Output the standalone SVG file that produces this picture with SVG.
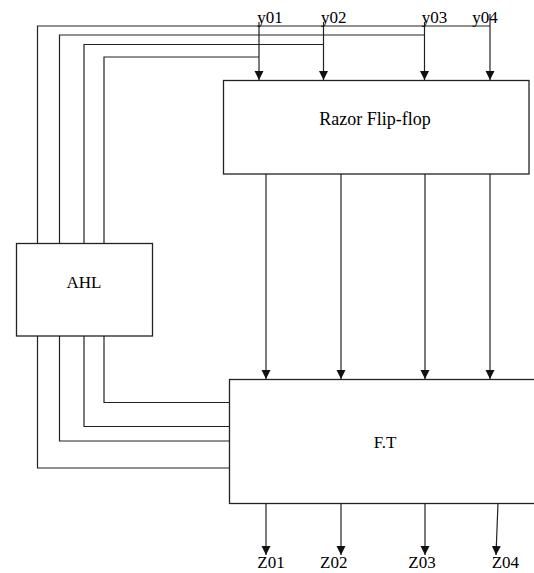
<svg xmlns="http://www.w3.org/2000/svg" width="534" height="573" viewBox="0 0 534 573">
<style>
.box{fill:#fff;stroke:#222;stroke-width:1.3}
.w{fill:none;stroke:#222;stroke-width:1.2}
.a{fill:none;stroke:#222;stroke-width:1.2;marker-end:url(#ah)}
text{font-family:"Liberation Serif","Times New Roman",serif;font-size:17px;fill:#000}
.c{text-anchor:middle}
</style>
<defs>
<marker id="ah" markerUnits="userSpaceOnUse" markerWidth="10" markerHeight="10" refX="9" refY="4.5" orient="auto">
<path d="M0,0 L9,4.5 L0,9 z" fill="#111"/>
</marker>
</defs>
<rect width="534" height="573" fill="#fff"/>
<g id="connectors">
<path class="w" d="M37.5 243 V26 H490"/>
<path class="w" d="M59.5 243 V35 H424.5"/>
<path class="w" d="M84 243 V44.5 H323.5"/>
<path class="w" d="M104 243 V57 H259"/>
<path class="a" d="M259 22 V80"/>
<path class="a" d="M323.5 22 V80"/>
<path class="a" d="M424.5 22 V80"/>
<path class="a" d="M490 14 V80"/>
<path class="w" d="M104 336 V402.5 H229.5"/>
<path class="w" d="M84 336 V426.5 H229.5"/>
<path class="w" d="M59.5 336 V441 H229.5"/>
<path class="w" d="M37.5 336 V468 H229.5"/>
<path class="a" d="M266 174 V379"/>
<path class="a" d="M341 174 V379"/>
<path class="a" d="M425 174 V379"/>
<path class="a" d="M490 174 V379"/>
<path class="a" d="M266 503 V555"/>
<path class="a" d="M341 503 V555"/>
<path class="a" d="M425 503 V555"/>
<path class="a" d="M498 503 L496 555"/>
</g>
<g id="razor">
<rect class="box" x="223.5" y="80.5" width="305.5" height="93.5"/>
<text class="c" x="375" y="125" style="font-size:18px">Razor Flip-flop</text>
</g>
<g id="ahl">
<rect class="box" x="16.5" y="243.5" width="136" height="92.5"/>
<text class="c" x="84" y="288">AHL</text>
</g>
<g id="ft">
<rect class="box" x="229.5" y="379.5" width="320" height="124"/>
<text class="c" x="385" y="448">F.T</text>
</g>
<g id="labels">
<text x="257.3" y="23">y01</text>
<text x="321" y="23">y02</text>
<text x="421.7" y="23">y03</text>
<text x="472.3" y="23">y04</text>
<text x="257.3" y="568">Z01</text>
<text x="320" y="568">Z02</text>
<text x="408.3" y="568">Z03</text>
<text x="491.7" y="568">Z04</text>
</g>
</svg>
